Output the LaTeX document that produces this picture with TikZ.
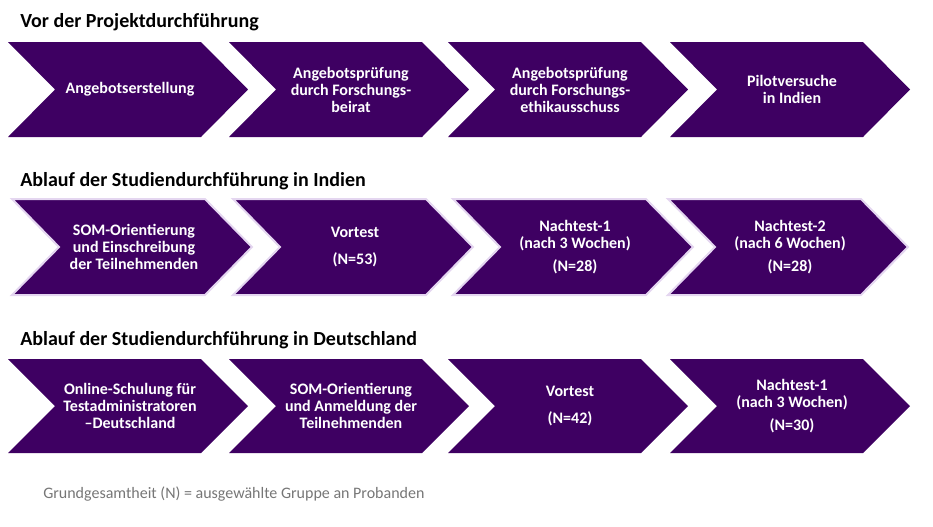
\documentclass[tikz,border=0pt]{standalone}
\usepackage{fontspec}
\setmainfont{Carlito}
\definecolor{chevfill}{RGB}{62,0,98}
\definecolor{chevglow}{RGB}{228,214,240}
\definecolor{notegray}{RGB}{118,118,118}
\begin{document}
\begin{tikzpicture}[x=0.75pt,y=-0.75pt,
  chev/.style={fill=chevfill},
  chevg/.style={fill=chevfill,draw=chevglow,line width=1.5pt},
  chevtext/.style={text=white,align=center,font=\fontsize{12}{12.75}\selectfont\bfseries},
  heading/.style={anchor=base west,inner sep=0pt,font=\fontsize{15}{17}\selectfont\bfseries},
  note/.style={anchor=base west,inner sep=0pt,text=notegray,font=\fontsize{12}{14}\selectfont}]
\useasboundingbox (0,0) rectangle (933,526);
% chevron macro: #1 style, #2 left, #3 top, #4 height, #5 node name, #6 text
\newcommand{\mychev}[6]{%
  \path[#1] (#2,#3) -- ++(193,0) -- ++(47,#4/2) -- ++(-47,#4/2) -- ++(-193,0) -- ++(47,-#4/2) -- cycle;
  \node[chevtext] (#5) at ({#2+122},{#3+#4/2}) {#6};}
% Row 1
\node[heading] (t1) at (20,27) {Vor der Projektdurchführung};
\mychev{chev}{8}{42}{95}{a1}{Angebotserstellung}
\mychev{chev}{229}{42}{95}{a2}{Angebotsprüfung\\durch Forschungs-\\beirat}
\mychev{chev}{448}{42}{95}{a3}{Angebotsprüfung\\durch Forschungs-\\ethikausschuss}
\mychev{chev}{670}{42}{95}{a4}{Pilotversuche\\in Indien}
% Row 2
\node[heading] (t2) at (20,186) {Ablauf der Studiendurchführung in Indien};
\mychev{chevg}{12}{199}{96}{b1}{SOM-Orientierung\\und Einschreibung\\der Teilnehmenden}
\mychev{chevg}{233}{199}{96}{b2}{Vortest\\[7pt](N=53)}
\mychev{chevg}{453}{199}{96}{b3}{Nachtest-1\\(nach 3 Wochen)\\[5pt](N=28)}
\mychev{chevg}{668}{199}{96}{b4}{Nachtest-2\\(nach 6 Wochen)\\[5pt](N=28)}
% Row 3
\node[heading] (t3) at (20,345) {Ablauf der Studiendurchführung in Deutschland};
\mychev{chev}{8}{359}{94}{c1}{Online-Schulung für\\Testadministratoren\\–Deutschland}
\mychev{chev}{229}{359}{94}{c2}{SOM-Orientierung\\und Anmeldung der\\Teilnehmenden}
\mychev{chev}{448}{359}{94}{c3}{Vortest\\[7pt](N=42)}
\mychev{chev}{670}{359}{94}{c4}{Nachtest-1\\(nach 3 Wochen)\\[5pt](N=30)}
% note
\node[note] (n) at (43,498) {Grundgesamtheit (N) = ausgewählte Gruppe an Probanden};
\end{tikzpicture}
\end{document}
